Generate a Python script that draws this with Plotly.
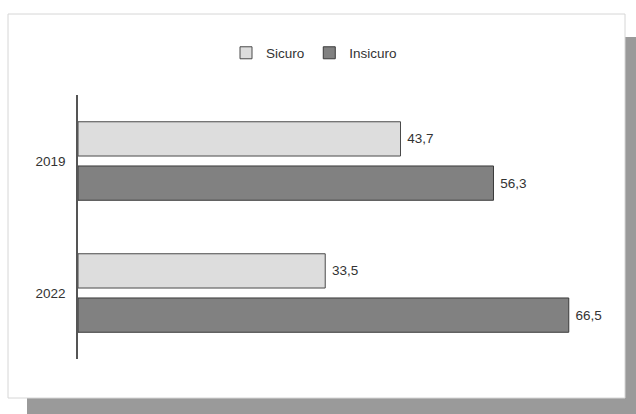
import plotly.graph_objects as go

# Data
years = ["2019", "2022"]
sicuro = [43.7, 33.5]
insicuro = [56.3, 66.5]
series_names = ["Sicuro", "Insicuro"]

W, H = 636, 414
ML, MR, MT, MB = 78, 41, 95, 55
PW = W - ML - MR
PH = H - MT - MB


def px_x(p):
    return (p - ML) / PW


def px_y(p):
    return (H - MB - p) / PH


font_family = "Liberation Sans, Arial, sans-serif"
text_color = "#333333"

fig = go.Figure()
fig.add_trace(go.Bar(
    y=years, x=sicuro, name=series_names[0], orientation="h",
    marker=dict(color="#dddddd", line=dict(color="#4a4a4a", width=1)),
    text=sicuro, texttemplate="\u00a0%{x:.1f}", textposition="outside",
    textfont=dict(size=13.5, color=text_color, family=font_family),
    cliponaxis=False,
))
fig.add_trace(go.Bar(
    y=years, x=insicuro, name=series_names[1], orientation="h",
    marker=dict(color="#818181", line=dict(color="#3a3a3a", width=1)),
    text=insicuro, texttemplate="\u00a0%{x:.1f}", textposition="outside",
    textfont=dict(size=13.5, color=text_color, family=font_family),
    cliponaxis=False,
))

# Framed panel with drop shadow
fig.add_shape(type="rect", xref="paper", yref="paper", layer="below",
              x0=px_x(27), x1=px_x(645), y0=px_y(37), y1=px_y(425),
              fillcolor="#9a9a9a", line=dict(width=0))
fig.add_shape(type="rect", xref="paper", yref="paper", layer="below",
              x0=px_x(8), x1=px_x(625), y0=px_y(14), y1=px_y(398),
              fillcolor="white", line=dict(color="#d6d6d6", width=1))

fig.update_layout(
    width=W, height=H,
    margin=dict(l=ML, r=MR, t=MT, b=MB),
    paper_bgcolor="white", plot_bgcolor="rgba(0,0,0,0)",
    barmode="group", bargap=0.33, bargroupgap=0.225,
    separators=",.",
    font=dict(family=font_family, size=13.5, color=text_color),
    showlegend=True,
    legend=dict(orientation="h", x=px_x(226), y=px_y(53),
                xanchor="left", yanchor="middle",
                bgcolor="rgba(0,0,0,0)", itemwidth=30,
                font=dict(size=13.5, color=text_color, family=font_family),
                traceorder="normal"),
    xaxis=dict(range=[0, PW / 7.38], visible=False, showgrid=False,
               zeroline=False),
    yaxis=dict(type="category", categoryorder="array", categoryarray=years,
               autorange="reversed", showline=True, linecolor="#555555",
               linewidth=1.5, showgrid=False, zeroline=False, ticks="",
               ticklabelstandoff=8,
               tickfont=dict(size=13.5, color=text_color, family=font_family)),
)

fig.write_html("out.html")
